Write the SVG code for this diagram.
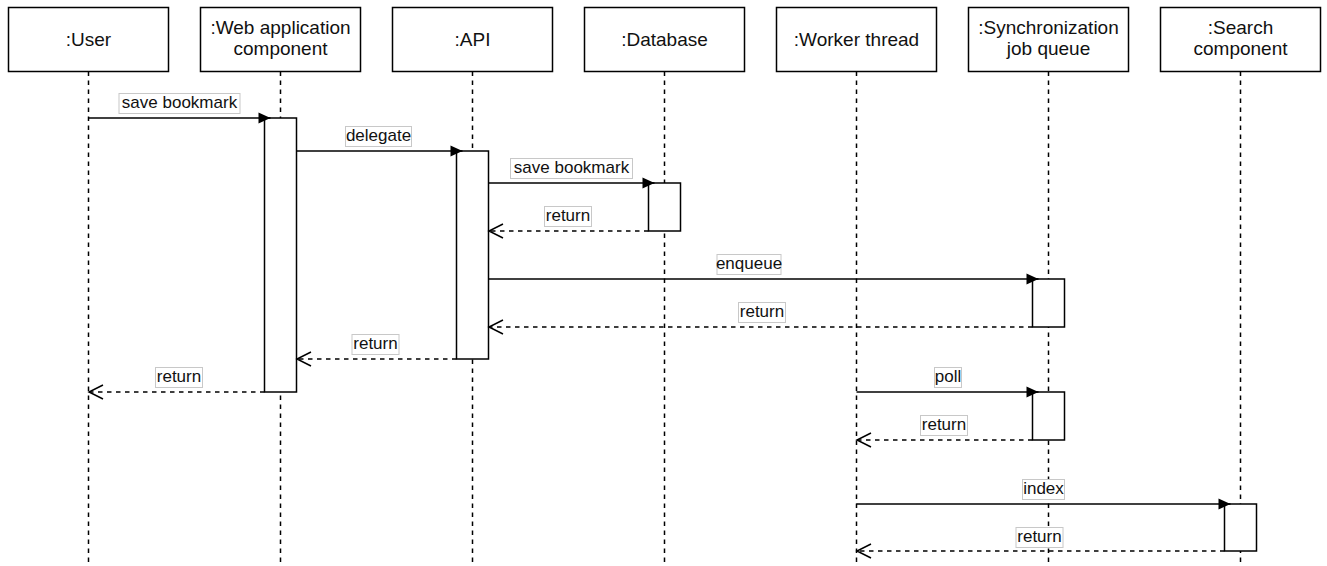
<svg xmlns="http://www.w3.org/2000/svg" width="1327" height="566" viewBox="0 0 1327 566">
<style>
.box{fill:#fff;stroke:#000;stroke-width:1.5}
.hd{font-family:"Liberation Sans",Arial,Helvetica,sans-serif;font-size:19px;fill:#111;text-anchor:middle}
.life{stroke:#000;stroke-width:1.5;stroke-dasharray:4.5 4.5;fill:none}
.act{fill:#fff;stroke:#000;stroke-width:1.5}
.msg{stroke:#000;stroke-width:1.5;fill:none;marker-end:url(#filled)}
.ret{stroke:#000;stroke-width:1.5;fill:none;stroke-dasharray:4.5 4.5;marker-end:url(#open)}
.lbl{fill:#fff;stroke:#c8c8c8;stroke-width:1}
.lt{font-family:"Liberation Sans",Arial,Helvetica,sans-serif;font-size:17px;fill:#111;text-anchor:middle}
</style>
<defs>
<marker id="filled" markerUnits="userSpaceOnUse" markerWidth="12" markerHeight="11" refX="12" refY="5.5" orient="auto" overflow="visible">
<path d="M0,0 L12,5.5 L0,11 Z" fill="#000" stroke="none"/>
</marker>
<marker id="open" markerUnits="userSpaceOnUse" markerWidth="14" markerHeight="16" refX="14" refY="8" orient="auto" overflow="visible">
<path d="M0,1 L14,8 L0,15" fill="none" stroke="#000" stroke-width="1.5" stroke-dasharray="none"/>
</marker>
</defs>

<g id="lifelines">
<line class="life" x1="88.5" y1="71.5" x2="88.5" y2="566"/>
<line class="life" x1="280.5" y1="71.5" x2="280.5" y2="566"/>
<line class="life" x1="472.5" y1="71.5" x2="472.5" y2="566"/>
<line class="life" x1="664.5" y1="71.5" x2="664.5" y2="566"/>
<line class="life" x1="856.5" y1="71.5" x2="856.5" y2="566"/>
<line class="life" x1="1048.5" y1="71.5" x2="1048.5" y2="566"/>
<line class="life" x1="1240.5" y1="71.5" x2="1240.5" y2="566"/>
</g>

<g id="user">
<rect class="box" x="8.5" y="7.5" width="160" height="64"/>
<text class="hd" x="88.5" y="45.5">:User</text>
</g>
<g id="webapp">
<rect class="box" x="200.5" y="7.5" width="160" height="64"/>
<text class="hd" x="280.5" y="33.5">:Web application</text>
<text class="hd" x="280.5" y="55">component</text>
<rect class="act" x="264.5" y="118" width="32" height="274"/>
</g>
<g id="api">
<rect class="box" x="392.5" y="7.5" width="160" height="64"/>
<text class="hd" x="472.5" y="45.5">:API</text>
<rect class="act" x="456.5" y="151" width="32" height="208"/>
</g>
<g id="database">
<rect class="box" x="584.5" y="7.5" width="160" height="64"/>
<text class="hd" x="664.5" y="45.5">:Database</text>
<rect class="act" x="648.5" y="183" width="32" height="48"/>
</g>
<g id="worker">
<rect class="box" x="776.5" y="7.5" width="160" height="64"/>
<text class="hd" x="856.5" y="45.5">:Worker thread</text>
</g>
<g id="syncqueue">
<rect class="box" x="968.5" y="7.5" width="160" height="64"/>
<text class="hd" x="1048.5" y="33.5">:Synchronization</text>
<text class="hd" x="1048.5" y="55">job queue</text>
<rect class="act" x="1032.5" y="279" width="32" height="48"/>
<rect class="act" x="1032.5" y="392" width="32" height="48"/>
</g>
<g id="search">
<rect class="box" x="1160.5" y="7.5" width="160" height="64"/>
<text class="hd" x="1240.5" y="33.5">:Search</text>
<text class="hd" x="1240.5" y="55">component</text>
<rect class="act" x="1224.5" y="504" width="32" height="47"/>
</g>

<g id="connectors">
<line class="msg" x1="88.5" y1="118" x2="270.5" y2="118"/>
<line class="msg" x1="296.5" y1="151" x2="462.5" y2="151"/>
<line class="msg" x1="488.5" y1="183" x2="654.5" y2="183"/>
<line class="ret" x1="648.5" y1="231" x2="489" y2="231"/>
<line class="msg" x1="488.5" y1="279" x2="1038.5" y2="279"/>
<line class="ret" x1="1032.5" y1="327" x2="489" y2="327"/>
<line class="ret" x1="456.5" y1="359" x2="297" y2="359"/>
<line class="ret" x1="264.5" y1="392" x2="89" y2="392"/>
<line class="msg" x1="856.5" y1="392" x2="1038.5" y2="392"/>
<line class="ret" x1="1032.5" y1="440" x2="857" y2="440"/>
<line class="msg" x1="856.5" y1="504" x2="1230.5" y2="504"/>
<line class="ret" x1="1224.5" y1="551" x2="857" y2="551"/>

<rect class="lbl" x="119" y="93.5" width="121" height="20"/>
<text class="lt" x="179.5" y="108">save bookmark</text>
<rect class="lbl" x="345.5" y="126.5" width="66" height="20"/>
<text class="lt" x="378.5" y="141">delegate</text>
<rect class="lbl" x="510.5" y="158.5" width="122" height="20"/>
<text class="lt" x="571.5" y="173">save bookmark</text>
<rect class="lbl" x="544.5" y="206.5" width="47" height="20"/>
<text class="lt" x="568" y="221">return</text>
<rect class="lbl" x="717" y="254.5" width="64" height="20"/>
<text class="lt" x="749" y="269">enqueue</text>
<rect class="lbl" x="738.5" y="302.5" width="47" height="20"/>
<text class="lt" x="762" y="317">return</text>
<rect class="lbl" x="352" y="334.5" width="47" height="20"/>
<text class="lt" x="375.5" y="349">return</text>
<rect class="lbl" x="155.5" y="367.5" width="47" height="20"/>
<text class="lt" x="179" y="382">return</text>
<rect class="lbl" x="934.5" y="367.5" width="27" height="20"/>
<text class="lt" x="948" y="382">poll</text>
<rect class="lbl" x="920.5" y="415.5" width="47" height="20"/>
<text class="lt" x="944" y="430">return</text>
<rect class="lbl" x="1022.5" y="479.5" width="42" height="20"/>
<text class="lt" x="1043.5" y="494">index</text>
<rect class="lbl" x="1016" y="527.5" width="47" height="20"/>
<text class="lt" x="1039.5" y="542">return</text>
</g>
</svg>
